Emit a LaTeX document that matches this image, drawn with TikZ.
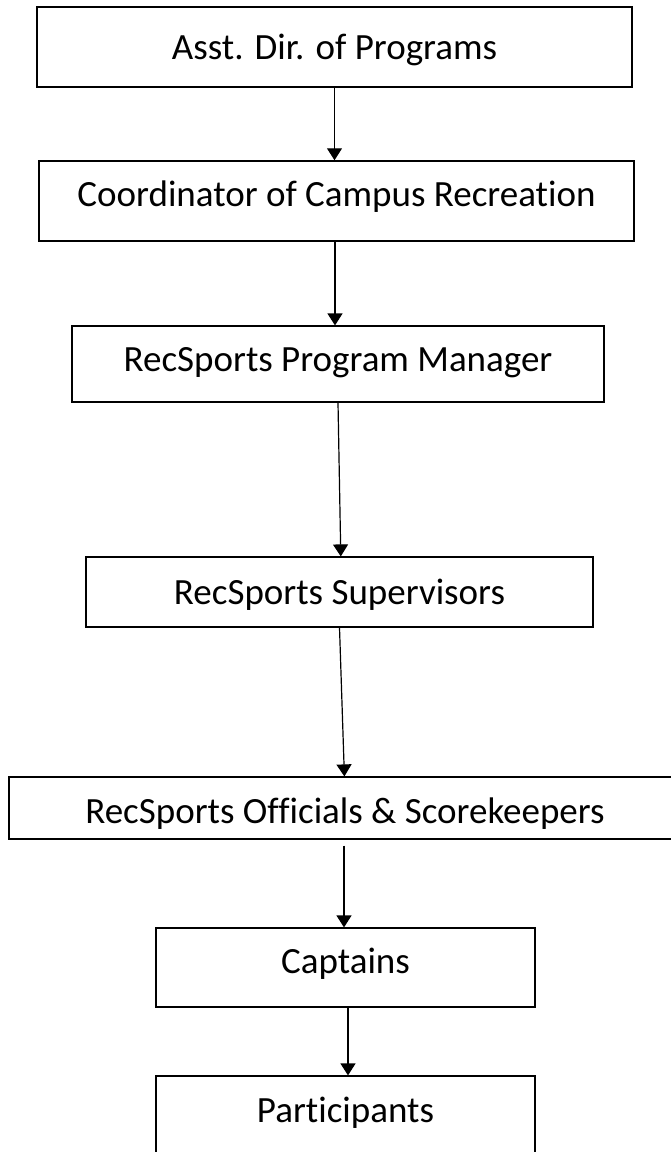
\documentclass[tikz,border=0pt]{standalone}
\usepackage{fontspec}
\setmainfont{Carlito}[RawFeature={-liga;-clig;-dlig}]
\usetikzlibrary{arrows.meta}
\tikzset{
  box/.style={draw=black, line width=1.2pt, rectangle, inner sep=0pt, fill=white,
    font=\fontsize{37}{44}\selectfont, text height=24pt, text depth=0pt, align=center},
  conn/.style={line width=1.2pt, -{Triangle[length=12pt,width=15pt]}}
}
\begin{document}
\begin{tikzpicture}[x=1pt,y=-1pt]
\useasboundingbox (0,0) rectangle (671,1152);
\node[box, line width=1.5pt, minimum width=595pt, minimum height=80pt] (b1) at (334.5,47) {Asst. Dir. of Programs};
\node[box, line width=1.5pt, minimum width=595pt, minimum height=80pt, text depth=13pt] (b2) at (336.5,201) {Coordinator of Campus Recreation};
\node[box, minimum width=532pt, minimum height=76pt, text depth=10pt] (b3) at (338,364) {RecSports Program Manager};
\node[box, minimum width=507pt, minimum height=70pt] (b4) at (339.5,592) {RecSports Supervisors};
\node[box, minimum width=672pt, minimum height=62pt, text height=30pt] (b5) at (345,808) {RecSports Officials \& Scorekeepers};
\node[box, minimum width=379pt, minimum height=79pt, text depth=12pt] (b6) at (345.5,967.5) {Captains};
\node[box, minimum width=379pt, minimum height=84pt, text depth=16pt] (b7) at (345.5,1118) {Participants};
\draw[conn] (b1.south) -- (b1.south |- b2.north);
\draw[conn] ([xshift=-1.5pt]b2.south) -- ([xshift=-1.5pt]b2.south |- b3.north);
\draw[conn] (b3.south) -- ([xshift=1.3pt]b4.north);
\draw[conn] (b4.south) -- ([xshift=-0.6pt]b5.north);
\coordinate (s5) at ([xshift=-1pt,yshift=-6pt]b5.south);
\draw[conn] (s5) -- (s5 |- b6.north);
\draw[conn] ([xshift=2.5pt]b6.south) -- ([xshift=2.5pt]b6.south |- b7.north);
\end{tikzpicture}
\end{document}
